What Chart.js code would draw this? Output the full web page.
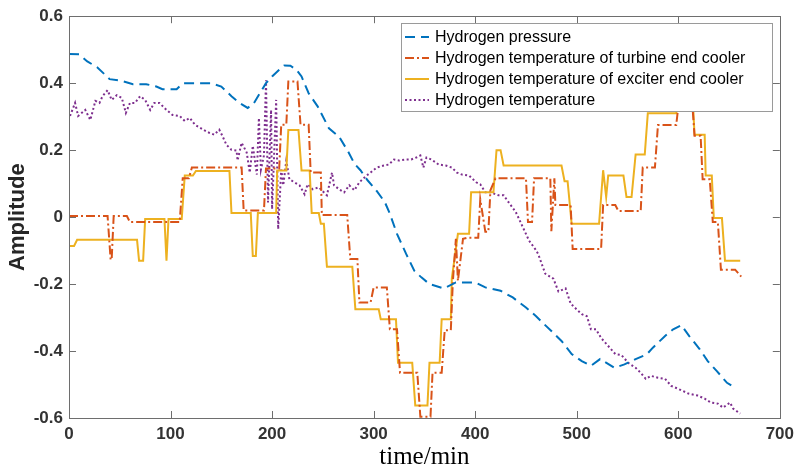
<!DOCTYPE html>
<html>
<head>
<meta charset="utf-8">
<script src="https://cdn.jsdelivr.net/npm/chart.js@4.4.1/dist/chart.umd.min.js"></script>
<style>
  html, body { margin: 0; padding: 0; background: #fff; }
</style>
</head>
<body>
<canvas id="chart" width="800" height="472"></canvas>
<script>
// axis ticks
const xTicks = [0, 100, 200, 300, 400, 500, 600, 700];
const yTicks = [-0.6, -0.4, -0.2, 0, 0.2, 0.4, 0.6];

// legend labels
const seriesNames = [
  'Hydrogen pressure',
  'Hydrogen temperature of turbine end cooler',
  'Hydrogen temperature of exciter end cooler',
  'Hydrogen temperature'
];

// hydrogen pressure (time/min, amplitude)
const pressureX = [0,10,18,28,40,52,63,76,86,92,106,112,140,150,160,168,176,182,188,194,200,207,212,218,224,229,236,245,256,266,275,281,287,294,303,311,316,323,332,340,347,355,369,381,400,410,425,437,450,460,468,475,485,495,505,514,523,537,547,558,569,575,587,595,603,611,621,629,638,648,656];
const pressureY = [0.487,0.486,0.465,0.447,0.412,0.407,0.397,0.397,0.39,0.382,0.382,0.4,0.4,0.39,0.361,0.341,0.326,0.34,0.37,0.4,0.42,0.44,0.453,0.452,0.44,0.42,0.37,0.33,0.265,0.24,0.195,0.16,0.14,0.11,0.078,0.045,0.01,-0.05,-0.11,-0.16,-0.18,-0.2,-0.213,-0.195,-0.195,-0.21,-0.22,-0.24,-0.27,-0.296,-0.32,-0.34,-0.37,-0.409,-0.43,-0.444,-0.424,-0.45,-0.44,-0.424,-0.41,-0.39,-0.355,-0.335,-0.323,-0.356,-0.394,-0.43,-0.46,-0.495,-0.51];

// turbine end cooler
const turbineX = [0,38,41,42,44,57,60,109,112,118,121,170,172,192,194,207,209,214,216,225,228,236,238,248,249,274,277,284,286,297,300,313,316,323,326,343,346,356,358,367,370,376,378,381,383,388,392,403,405,410,413,415,420,450,452,456,458,474,475,478,479,494,496,524,526,538,541,563,565,577,580,598,600,614,616,622,624,631,634,639,642,656,662];
const turbineY = [0.003,0.003,-0.127,-0.127,0.003,0.003,-0.015,-0.015,0.116,0.116,0.148,0.148,0.02,0.02,0.145,0.145,0.276,0.276,0.405,0.405,0.276,0.276,0.133,0.133,0.006,0.006,-0.125,-0.125,-0.255,-0.255,-0.21,-0.21,-0.335,-0.335,-0.465,-0.465,-0.596,-0.596,-0.465,-0.465,-0.338,-0.338,-0.193,-0.065,-0.19,-0.065,-0.062,-0.062,0.053,-0.044,-0.044,0.08,0.116,0.116,-0.015,-0.015,0.116,0.116,-0.042,0.116,0.036,0.036,-0.095,-0.095,0.036,0.036,0.018,0.018,0.148,0.148,0.275,0.275,0.33,0.33,0.243,0.243,0.113,0.113,-0.015,-0.015,-0.157,-0.157,-0.178];

// exciter end cooler
const exciterX = [1,5,8,67,69,73,75,94,96,98,111,114,122,125,158,160,179,181,184,186,204,205,214,216,226,229,237,239,246,248,251,254,279,282,305,307,322,324,338,341,353,355,365,367,376,377,383,394,396,418,421,425,428,485,488,491,495,522,526,529,531,546,549,554,558,567,570,598,600,614,616,626,627,633,635,643,646,661];
const exciterY = [-0.086,-0.086,-0.068,-0.068,-0.13,-0.13,-0.006,-0.006,-0.13,-0.006,-0.006,0.124,0.124,0.138,0.138,0.012,0.012,-0.116,-0.116,0.012,0.012,0.139,0.139,0.26,0.26,0.139,0.139,0.012,0.012,-0.02,-0.02,-0.148,-0.148,-0.275,-0.275,-0.305,-0.305,-0.435,-0.435,-0.563,-0.563,-0.435,-0.435,-0.305,-0.305,-0.183,-0.05,-0.05,0.074,0.074,0.2,0.2,0.154,0.154,0.107,0.107,-0.02,-0.02,0.14,0.06,0.124,0.124,0.06,0.06,0.187,0.187,0.31,0.31,0.37,0.37,0.246,0.246,0.124,0.124,-0.003,-0.003,-0.13,-0.13];

// hydrogen temperature
const tempX = [1,6,9,16,21,26,30,33,38,42,47,52,56,60,65,70,75,80,84,89,96,102,109,114,119,124,129,134,138,143,148,151,155,160,165,166,170,175,178,181,185,187,189,192,194,196,199,200,204,206,209,211,214,217,222,227,232,235,240,246,254,259,261,266,271,276,281,286,293,297,303,310,315,320,325,332,337,342,346,349,352,357,364,371,377,382,387,394,401,405,410,415,423,428,433,440,446,453,459,462,469,477,482,489,494,500,505,510,514,519,524,531,538,544,551,558,563,568,573,580,587,593,600,610,619,626,632,639,644,651,654,661];
const tempY = [0.302,0.341,0.302,0.32,0.29,0.347,0.341,0.361,0.379,0.35,0.364,0.356,0.311,0.341,0.341,0.361,0.35,0.32,0.341,0.341,0.32,0.305,0.302,0.287,0.296,0.276,0.267,0.258,0.252,0.246,0.261,0.243,0.216,0.201,0.199,0.169,0.222,0.193,0.133,0.213,0.127,0.296,0.142,0.184,0.409,0.044,0.32,0.024,0.35,-0.036,0.142,0.095,0.169,0.113,0.104,0.095,0.068,0.098,0.083,0.089,0.065,0.133,0.095,0.083,0.074,0.095,0.08,0.104,0.124,0.133,0.148,0.154,0.157,0.172,0.169,0.172,0.172,0.178,0.184,0.148,0.178,0.172,0.157,0.154,0.148,0.133,0.127,0.124,0.104,0.098,0.074,0.074,0.065,0.065,0.044,0.015,-0.024,-0.07,-0.095,-0.11,-0.169,-0.184,-0.222,-0.213,-0.258,-0.276,-0.29,-0.296,-0.335,-0.335,-0.361,-0.385,-0.409,-0.412,-0.436,-0.45,-0.465,-0.483,-0.474,-0.48,-0.483,-0.504,-0.513,-0.527,-0.533,-0.542,-0.554,-0.557,-0.569,-0.554,-0.572,-0.587];

const toPoints = (xs, ys) => xs.map((x, i) => ({ x: x, y: ys[i] }));

const SANS = '"Liberation Sans", Arial, sans-serif';
const AXIS = '#6e6e6e';

// box round the plot, inward ticks on all four sides, legend on top
const matlabFrame = {
  id: 'matlabFrame',
  afterDraw(chart) {
    const { ctx, chartArea: a, scales } = chart;
    ctx.save();
    ctx.strokeStyle = AXIS;
    ctx.lineWidth = 1;
    ctx.setLineDash([]);
    ctx.strokeRect(Math.round(a.left) + 0.5, Math.round(a.top) + 0.5, Math.round(a.width), Math.round(a.height));
    const tl = 7;
    ctx.beginPath();
    scales.x.ticks.forEach(t => {
      const px = Math.round(scales.x.getPixelForValue(t.value)) + 0.5;
      ctx.moveTo(px, a.bottom); ctx.lineTo(px, a.bottom - tl);
      ctx.moveTo(px, a.top); ctx.lineTo(px, a.top + tl);
    });
    scales.y.ticks.forEach(t => {
      const py = Math.round(scales.y.getPixelForValue(t.value)) + 0.5;
      ctx.moveTo(a.left, py); ctx.lineTo(a.left + tl, py);
      ctx.moveTo(a.right, py); ctx.lineTo(a.right - tl, py);
    });
    ctx.stroke();

    // legend
    const w = 371, h = 88;
    const left = Math.round(a.right - 8 - w), top = Math.round(a.top + 7);
    ctx.fillStyle = '#fff';
    ctx.fillRect(left, top, w, h);
    ctx.strokeStyle = '#9a9a9a';
    ctx.strokeRect(left + 0.5, top + 0.5, w, h);
    ctx.font = '16px ' + SANS;
    ctx.textBaseline = 'middle';
    chart.data.datasets.forEach((ds, i) => {
      const y = top + 14 + i * 21;
      ctx.strokeStyle = ds.borderColor;
      ctx.lineWidth = ds.borderWidth;
      ctx.setLineDash(ds.borderDash || []);
      ctx.beginPath();
      ctx.moveTo(left + 4, y);
      ctx.lineTo(left + 28, y);
      ctx.stroke();
      ctx.setLineDash([]);
      ctx.fillStyle = '#000';
      ctx.fillText(ds.label, left + 34, y + 1);
    });
    ctx.restore();
  }
};

new Chart(document.getElementById('chart'), {
  type: 'line',
  data: {
    datasets: [
      { label: seriesNames[0], data: toPoints(pressureX, pressureY), borderColor: '#0072BD', borderDash: [10, 6], borderWidth: 2 },
      { label: seriesNames[1], data: toPoints(turbineX, turbineY), borderColor: '#D95319', borderDash: [9, 3, 2, 3], borderWidth: 2 },
      { label: seriesNames[2], data: toPoints(exciterX, exciterY), borderColor: '#EDB120', borderWidth: 2 },
      { label: seriesNames[3], data: toPoints(tempX, tempY), borderColor: '#7E2F8E', borderDash: [2, 2.5], borderWidth: 2 }
    ]
  },
  options: {
    responsive: false,
    animation: false,
    devicePixelRatio: 1,
    elements: { point: { radius: 0 }, line: { tension: 0, borderCapStyle: 'butt' } },
    layout: { padding: { left: 0, right: 18, top: 13, bottom: 0 } },
    plugins: { legend: { display: false }, tooltip: { enabled: false } },
    scales: {
      x: {
        type: 'linear', min: 0, max: 700,
        afterBuildTicks: s => { s.ticks = xTicks.map(v => ({ value: v })); },
        afterFit: s => { s.height = 54; },
        grid: { display: false, drawTicks: false },
        border: { display: false },
        ticks: { color: '#333', font: { family: SANS, size: 17, weight: 'bold' }, padding: 6, maxRotation: 0 },
        title: { display: true, text: 'time/min', color: '#000',
                 font: { family: '"Liberation Serif", "Times New Roman", serif', size: 25 }, padding: { top: 0, bottom: 0 } }
      },
      y: {
        type: 'linear', min: -0.6, max: 0.6,
        afterBuildTicks: s => { s.ticks = yTicks.map(v => ({ value: v })); },
        afterFit: s => { s.width = 69; },
        grid: { display: false, drawTicks: false },
        border: { display: false },
        ticks: { color: '#333', font: { family: SANS, size: 17, weight: 'bold' }, padding: 6,
                 callback: v => { const r = Math.round(v * 10) / 10; return r === 0 ? '0' : String(r); } },
        title: { display: true, text: 'Amplitude', color: '#262626',
                 font: { family: SANS, size: 22, weight: 'bold' }, padding: { top: 5, bottom: 0 } }
      }
    }
  },
  plugins: [matlabFrame]
});
</script>
</body>
</html>
